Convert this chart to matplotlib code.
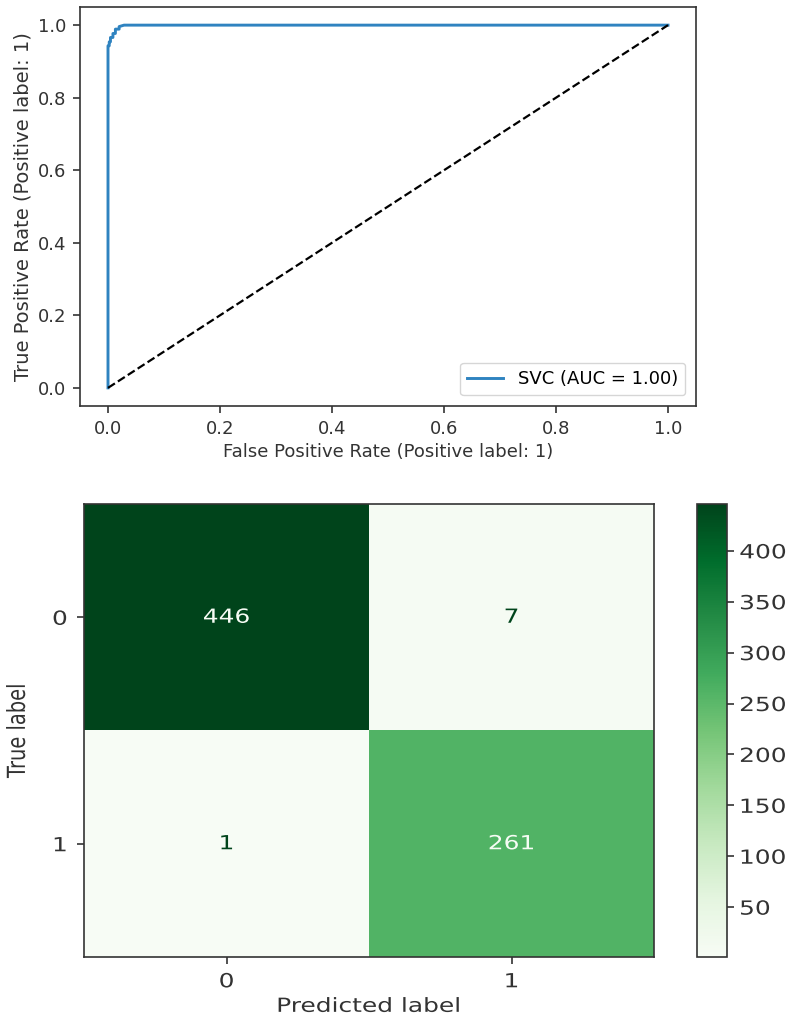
import numpy as np
import matplotlib
matplotlib.use('Agg')
import matplotlib.pyplot as plt
from matplotlib.patheffects import AbstractPathEffect
from matplotlib.transforms import Affine2D

# ROC curve points for the SVC classifier
fpr = [0.0, 0.0, 0.0022, 0.0022, 0.0044, 0.0044, 0.0088, 0.0088,
       0.0132, 0.0132, 0.0199, 0.0199, 0.0287, 1.0]
tpr = [0.0, 0.943, 0.943, 0.954, 0.954, 0.966, 0.966, 0.977,
       0.977, 0.989, 0.989, 0.996, 1.0, 1.0]
auc_label = 'SVC (AUC = 1.00)'

# Confusion matrix counts
class_labels = ['0', '1']
cm = np.array([[446, 7],
               [1, 261]])
cbar_ticks = [50, 100, 150, 200, 250, 300, 350, 400]


class HStretch(AbstractPathEffect):
    """Widen text horizontally on screen, keeping one edge (or the centre) fixed."""

    def __init__(self, sx, anchor='center'):
        super().__init__()
        self.sx = sx
        self.anchor = anchor

    def draw_path(self, renderer, gc, tpath, affine, rgbFace=None):
        bb = tpath.get_extents(affine)
        x0 = {'left': bb.x0, 'center': 0.5 * (bb.x0 + bb.x1), 'right': bb.x1}[self.anchor]
        t = affine + Affine2D().translate(-x0, 0).scale(self.sx, 1).translate(x0, 0)
        renderer.draw_path(gc, tpath, t, rgbFace)


W, H = 790, 1026
fig = plt.figure(figsize=(W / 100, H / 100), dpi=100)

# --- ROC curve ---
fs_top = 13
ax1 = fig.add_axes([80 / W, (H - 406) / H, 616 / W, 399 / H])
ax1.plot(fpr, tpr, color='#2f83c0', lw=2.1, label=auc_label)
ax1.plot([0, 1], [0, 1], 'k--', lw=1.6)
ax1.set_xlim(-0.05, 1.05)
ax1.set_ylim(-0.05, 1.05)
ax1.set_xticks(np.arange(0, 1.01, 0.2))
ax1.set_yticks(np.arange(0, 1.01, 0.2))
ax1.tick_params(labelsize=fs_top, length=5, width=1.2, pad=5, colors='#333333')
for s in ax1.spines.values():
    s.set_linewidth(1.2)
    s.set_color('#333333')
ax1.set_xlabel('False Positive Rate (Positive label: 1)', fontsize=fs_top, color='#333333')
ax1.set_ylabel('True Positive Rate (Positive label: 1)', fontsize=14, color='#333333')
ax1.legend(loc='lower right', fontsize=fs_top, borderaxespad=0.6)

# --- Confusion matrix ---
fs_bot = 14
sx = 1.28
ax2 = fig.add_axes([84 / W, (H - 957) / H, 570 / W, 453 / H])
cmap = plt.get_cmap('Greens')
im = ax2.imshow(cm, cmap=cmap, aspect='auto', interpolation='nearest')
thresh = (cm.max() + cm.min()) / 2.0
for i in range(cm.shape[0]):
    for j in range(cm.shape[1]):
        color = cmap(0.0) if cm[i, j] > thresh else cmap(1.0)
        ax2.text(j, i, str(cm[i, j]), ha='center', va='center',
                 color=color, fontsize=fs_bot,
                 path_effects=[HStretch(sx, 'center')])
ax2.set_xticks(range(len(class_labels)))
ax2.set_yticks(range(len(class_labels)))
ax2.set_xticklabels(class_labels)
ax2.set_yticklabels(class_labels)
ax2.tick_params(labelsize=fs_bot, length=5, width=1.2, colors='#333333')
ax2.tick_params(axis='x', pad=6)
ax2.tick_params(axis='y', pad=7)
for s in ax2.spines.values():
    s.set_linewidth(1.2)
    s.set_color('#333333')
for lab in ax2.get_xticklabels():
    lab.set_path_effects([HStretch(sx, 'center')])
for lab in ax2.get_yticklabels():
    lab.set_path_effects([HStretch(sx, 'right')])
ax2.set_xlabel('Predicted label', fontsize=fs_bot, color='#333333',
               path_effects=[HStretch(sx, 'center')])
ax2.set_ylabel('True label', fontsize=fs_bot, color='#333333',
               path_effects=[HStretch(sx, 'right')])
ax2.yaxis.set_label_coords((29 - 84) / 570, 0.5)

cax = fig.add_axes([697 / W, (H - 957) / H, 30 / W, 453 / H])
cb = fig.colorbar(im, cax=cax)
cb.set_ticks(cbar_ticks)
cb.ax.tick_params(labelsize=fs_bot, length=5, width=1.2, pad=4, colors='#333333')
cb.outline.set_linewidth(1.2)
cb.outline.set_edgecolor('#333333')
for lab in cb.ax.get_yticklabels():
    lab.set_path_effects([HStretch(sx, 'left')])

fig.savefig('out.png', dpi=100)
